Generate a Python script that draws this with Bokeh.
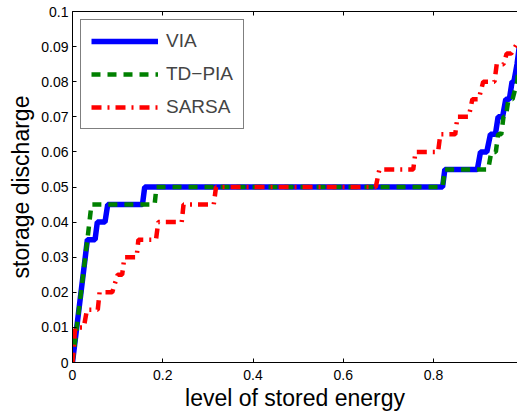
from bokeh.plotting import figure
from bokeh.models import LinearAxis, FixedTicker, Range1d, Legend, LegendItem
from bokeh.embed import file_html
from bokeh.resources import INLINE

# ---- data ----
via_x = [0, 0.033, 0.05, 0.055, 0.072, 0.078, 0.155, 0.16, 0.82, 0.825, 0.897,
         0.904, 0.918, 0.926, 0.937, 0.943, 0.953, 0.96, 0.968, 0.974, 0.978, 0.985, 0.99]
via_y = [0, 0.035, 0.035, 0.04, 0.04, 0.045, 0.045, 0.05, 0.05, 0.055, 0.055,
         0.06, 0.06, 0.065, 0.065, 0.07, 0.07, 0.075, 0.075, 0.08, 0.08, 0.085, 0.09]

tdpia_x = [0, 0.033, 0.042, 0.182, 0.186, 0.82, 0.825, 0.921, 0.928, 0.938, 0.943,
           0.950, 0.955, 0.960, 0.966, 0.975, 0.985, 0.99]
tdpia_y = [0, 0.035, 0.045, 0.045, 0.05, 0.05, 0.055, 0.055, 0.06, 0.06, 0.065,
           0.065, 0.07, 0.07, 0.075, 0.075, 0.08, 0.085]

sarsa_x = [0, 0.006, 0.025, 0.032, 0.056, 0.06, 0.088, 0.1, 0.11, 0.115, 0.142,
           0.146, 0.185, 0.19, 0.242, 0.246, 0.313, 0.318, 0.672, 0.68, 0.755,
           0.76, 0.81, 0.815, 0.848, 0.853, 0.878, 0.886, 0.9, 0.91, 0.935,
           0.94, 0.955, 0.962, 0.972, 0.99]
sarsa_y = [0, 0.01, 0.01, 0.015, 0.015, 0.02, 0.02, 0.025, 0.025, 0.03, 0.03,
           0.035, 0.035, 0.04, 0.04, 0.045, 0.045, 0.05, 0.05, 0.055, 0.055,
           0.06, 0.06, 0.065, 0.065, 0.07, 0.07, 0.075, 0.075, 0.08, 0.08,
           0.085, 0.085, 0.088, 0.088, 0.092]

series_names = ["VIA", "TD\u2212PIA", "SARSA"]
x_ticks = [0, 0.2, 0.4, 0.6, 0.8]
x_tick_labels = ["0", "0.2", "0.4", "0.6", "0.8"]
y_ticks = [0, 0.01, 0.02, 0.03, 0.04, 0.05, 0.06, 0.07, 0.08, 0.09, 0.1]
y_tick_labels = ["0", "0.01", "0.02", "0.03", "0.04", "0.05", "0.06", "0.07", "0.08", "0.09", "0.1"]

FONT = "Liberation Sans"

p = figure(width=517, height=413, output_backend="svg", toolbar_location=None,
           x_range=Range1d(0, 0.986), y_range=Range1d(0, 0.1),
           min_border_left=72, min_border_right=0, min_border_top=11, min_border_bottom=46)
p.outline_line_color = None
p.grid.visible = False
p.background_fill_color = "white"
p.border_fill_color = "white"

r1 = p.line(via_x, via_y, line_color="#0000ff", line_width=5.5)
r2 = p.line(tdpia_x, tdpia_y, line_color="#008000", line_width=4.5, line_dash="9 7")
r3 = p.line(sarsa_x, sarsa_y, line_color="#ff0000", line_width=4.5, line_dash="10 6 2 6")

# axes
xa = p.xaxis[0]
ya = p.yaxis[0]
xa.ticker = FixedTicker(ticks=x_ticks)
xa.major_label_overrides = {t: l for t, l in zip(x_ticks, x_tick_labels)}
ya.ticker = FixedTicker(ticks=y_ticks)
ya.major_label_overrides = {t: l for t, l in zip(y_ticks, y_tick_labels)}
for ax in (xa, ya):
    ax.major_tick_in = 4
    ax.major_tick_out = 0
    ax.minor_tick_line_color = None
    ax.axis_line_color = "black"
    ax.major_tick_line_color = "black"
    ax.major_label_text_font = FONT
    ax.major_label_text_font_size = "14px"
    ax.major_label_text_color = "black"
    ax.axis_label_text_font = FONT
    ax.axis_label_text_font_size = "23px"
    ax.axis_label_text_font_style = "normal"
    ax.axis_label_text_color = "black"
xa.axis_label = "level of stored energy"
ya.axis_label = "storage discharge"
xa.major_label_standoff = 7
ya.major_label_standoff = 4
xa.axis_label_standoff = 2
ya.axis_label_standoff = 4

# top frame line with inward ticks, no labels
top = LinearAxis(ticker=FixedTicker(ticks=x_ticks), major_tick_in=4, major_tick_out=0,
                 minor_tick_line_color=None, major_label_text_color=None,
                 major_label_text_font_size="1px",
                 major_label_standoff=0, axis_line_color="black")
p.add_layout(top, "above")

legend = Legend(items=[LegendItem(label=series_names[0], renderers=[r1]),
                       LegendItem(label=series_names[1], renderers=[r2]),
                       LegendItem(label=series_names[2], renderers=[r3])],
                location="top_left", margin=8, padding=10, spacing=11,
                glyph_width=67, glyph_height=20, label_height=20, label_standoff=8,
                label_text_font=FONT, label_text_font_size="19px",
                border_line_color="black", border_line_width=1,
                background_fill_alpha=1.0)
p.add_layout(legend, "center")

open("out.html", "w").write(file_html(p, INLINE))
